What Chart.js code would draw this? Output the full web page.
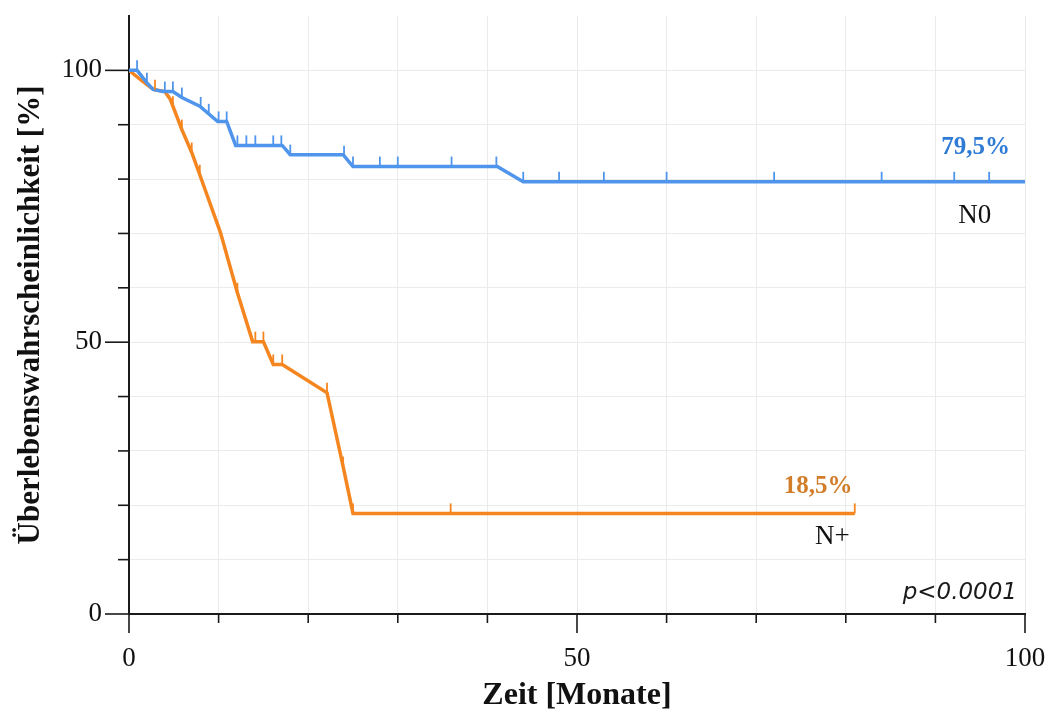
<!DOCTYPE html>
<html lang="de">
<head>
<meta charset="utf-8">
<title>Überlebenswahrscheinlichkeit N0 / N+</title>
<script src="https://cdn.jsdelivr.net/npm/chart.js@4.4.1/dist/chart.umd.min.js"></script>
<style>
  html, body { margin: 0; padding: 0; background: #fff; }
  #wrap { width: 1054px; height: 718px; }
</style>
</head>
<body>
<div id="wrap"><canvas id="km" width="1054" height="718"></canvas></div>
<script>
// Kaplan-Meier: Stufenpunkte (Monate / %) und zensierte Fälle
const zeitN0 = [0, 0.9, 2.0, 2.7, 3.8, 4.9, 5.9, 7.9, 9.9, 10.9, 11.9, 17.1, 18.0, 23.9, 25.0, 41.1, 44.0, 100];
const survN0 = [100, 100, 97.7, 96.5, 96.1, 96.1, 95.0, 93.4, 90.6, 90.6, 86.2, 86.2, 84.5, 84.5, 82.3, 82.3, 79.5, 79.5];
const zensN0 = [0.9, 2.0, 4.0, 4.9, 5.9, 8.0, 8.9, 10.0, 10.9, 12.1, 13.1, 14.1, 16.1, 17.0, 18.0, 24.0, 25.0,
  28.0, 30.0, 36.0, 41.0, 44.0, 48.0, 53.0, 60.0, 72.0, 84.0, 92.1, 96.0];

const zeitNplus = [0, 1.5, 2.7, 4.0, 4.6, 5.9, 7.0, 7.9, 10.2, 12.1, 13.8, 15.0, 16.1, 17.1, 22.1, 23.9, 25.0, 81.0];
const survNplus = [100, 98.0, 96.5, 96.1, 94.7, 89.1, 84.9, 80.8, 70.2, 59.1, 50.1, 50.1, 45.9, 45.9, 40.7, 27.1, 18.5, 18.5];
const zensNplus = [2.9, 4.9, 5.9, 7.0, 7.9, 12.1, 14.1, 15.0, 16.1, 17.1, 22.1, 23.9, 25.0, 35.9, 81.0];

const xLabels = [0, 50, 100];
const yLabels = [0, 50, 100];
const pWert = "p<0.0001";

const BLAU = "#4f95ec", ORANGE = "#f5861f";
const SERIF = "'Liberation Serif', 'Times New Roman', serif";

function punkte(zeit, surv) {
  return zeit.map(function(t, i) { return { x: t, y: surv[i] }; });
}

// Wert der Kurve zum Zeitpunkt t (linear zwischen den Stufenpunkten)
function survBei(zeit, surv, t) {
  for (let i = 1; i < zeit.length; i++) {
    if (t <= zeit[i]) {
      const f = (t - zeit[i - 1]) / ((zeit[i] - zeit[i - 1]) || 1);
      return surv[i - 1] + f * (surv[i] - surv[i - 1]);
    }
  }
  return surv[surv.length - 1];
}

function prozent(v) { return v.toFixed(1).replace(".", ",") + "%"; }

const kmExtras = {
  id: "kmExtras",
  afterDatasetsDraw(chart) {
    const ctx = chart.ctx, xs = chart.scales.x, ys = chart.scales.y;
    // Zensierungsstriche
    [[zeitN0, survN0, zensN0, BLAU], [zeitNplus, survNplus, zensNplus, ORANGE]].forEach(function(k) {
      ctx.save();
      ctx.strokeStyle = k[3];
      ctx.lineWidth = 1.8;
      k[2].forEach(function(t) {
        const px = xs.getPixelForValue(t);
        const py = ys.getPixelForValue(survBei(k[0], k[1], t));
        ctx.beginPath();
        ctx.moveTo(px, py);
        ctx.lineTo(px, py - 10);
        ctx.stroke();
      });
      ctx.restore();
    });
  },
  afterDraw(chart) {
    const ctx = chart.ctx, xs = chart.scales.x, ys = chart.scales.y, a = chart.chartArea;
    ctx.save();
    // Achsenstriche: lang bei beschrifteten Werten, sonst kurz
    ctx.strokeStyle = "#1a1a1a";
    ctx.lineWidth = 1.6;
    for (let v = 0; v <= 100; v += 10) {
      const px = xs.getPixelForValue(v);
      const len = xLabels.includes(v) ? 19 : 9;
      ctx.beginPath(); ctx.moveTo(px, a.bottom); ctx.lineTo(px, a.bottom + len); ctx.stroke();
      const py = ys.getPixelForValue(v);
      const ylen = yLabels.includes(v) ? 24 : 11;
      ctx.beginPath(); ctx.moveTo(a.left, py); ctx.lineTo(a.left - ylen, py); ctx.stroke();
    }

    // Endwerte und Gruppennamen
    const n0End = survN0[survN0.length - 1], npEnd = survNplus[survNplus.length - 1];
    ctx.textAlign = "center";
    ctx.textBaseline = "middle";
    ctx.font = "bold 25px " + SERIF;
    ctx.fillStyle = "#2e7bd6";
    ctx.fillText(prozent(n0End), xs.getPixelForValue(94.5), ys.getPixelForValue(n0End) - 34);
    ctx.fillStyle = "#d27d2a";
    ctx.fillText(prozent(npEnd), xs.getPixelForValue(76.9), ys.getPixelForValue(npEnd) - 27);
    ctx.font = "27px " + SERIF;
    ctx.fillStyle = "#111";
    ctx.fillText("N0", xs.getPixelForValue(94.4), ys.getPixelForValue(n0End) + 34);
    ctx.fillText("N+", xs.getPixelForValue(78.5), ys.getPixelForValue(npEnd) + 23);

    ctx.textAlign = "right";
    ctx.textBaseline = "alphabetic";
    ctx.font = "italic 23px 'DejaVu Sans', sans-serif";
    ctx.fillStyle = "#1a1a1a";
    ctx.fillText(pWert, a.right - 8, a.bottom - 15);
    ctx.restore();
  }
};

const gitter = function(c) { return c.tick && c.tick.value > 100 ? "rgba(0,0,0,0)" : "#ebebeb"; };

new Chart(document.getElementById("km"), {
  type: "line",
  data: {
    datasets: [
      { label: "N0", data: punkte(zeitN0, survN0), borderColor: BLAU, borderWidth: 3.5, pointRadius: 0, tension: 0, fill: false },
      { label: "N+", data: punkte(zeitNplus, survNplus), borderColor: ORANGE, borderWidth: 3.5, pointRadius: 0, tension: 0, fill: false }
    ]
  },
  options: {
    responsive: false,
    animation: false,
    devicePixelRatio: 1,
    layout: { padding: { top: 16, right: 29, left: 0, bottom: 0 } },
    plugins: { legend: { display: false }, tooltip: { enabled: false } },
    scales: {
      x: {
        type: "linear", min: 0, max: 100,
        afterFit: function(s) { s.height = 104; s.paddingLeft = 0; s.paddingRight = 0; },
        ticks: {
          stepSize: 10, autoSkip: false, maxRotation: 0, padding: 29, color: "#111",
          font: { family: SERIF, size: 27 },
          callback: function(v) { return xLabels.includes(v) ? String(v) : ""; }
        },
        grid: { color: gitter, lineWidth: 1, drawTicks: false },
        border: { color: "#1a1a1a", width: 2 },
        title: { display: true, text: "Zeit [Monate]", color: "#111", font: { family: SERIF, size: 32, weight: "bold" }, padding: { top: 0, bottom: 3 } }
      },
      y: {
        min: 0, max: 110,
        afterFit: function(s) { s.width = 129; s.paddingTop = 0; s.paddingBottom = 0; },
        ticks: {
          stepSize: 10, autoSkip: false, padding: 27, color: "#111",
          font: { family: SERIF, size: 27 },
          callback: function(v) { return yLabels.includes(v) ? String(v) : ""; }
        },
        grid: { color: gitter, lineWidth: 1, drawTicks: false },
        border: { color: "#1a1a1a", width: 2 },
        title: { display: true, text: "Überlebenswahrscheinlichkeit [%]", color: "#111", font: { family: SERIF, size: 31, weight: "bold" }, padding: { top: 12, bottom: 0 } }
      }
    }
  },
  plugins: [kmExtras]
});
</script>
</body>
</html>
